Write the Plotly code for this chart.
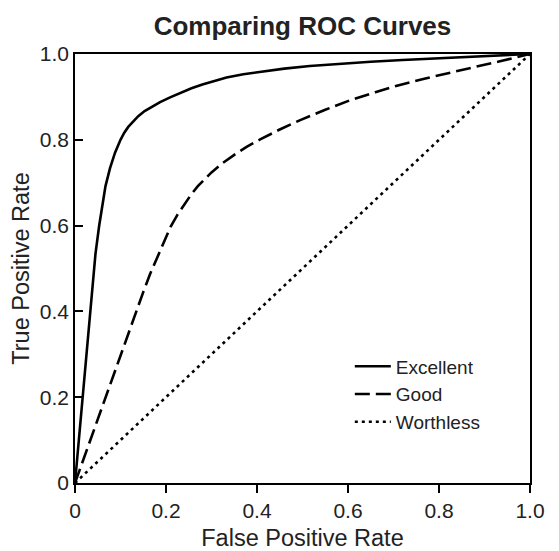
import plotly.graph_objects as go

# ROC curve points
excellent_fpr = [0, 0.018, 0.037, 0.045, 0.053, 0.060, 0.067, 0.077, 0.088, 0.100, 0.108, 0.117, 0.128, 0.139,
                 0.153, 0.168, 0.187, 0.209, 0.232, 0.256, 0.28, 0.304, 0.333, 0.37, 0.407, 0.46, 0.516, 0.58,
                 0.65, 0.72, 0.8, 0.9, 1.0]
excellent_tpr = [0, 0.215, 0.445, 0.534, 0.599, 0.651, 0.692, 0.734, 0.770, 0.800, 0.816, 0.830, 0.843, 0.855,
                 0.867, 0.877, 0.888, 0.899, 0.910, 0.920, 0.929, 0.937, 0.945, 0.953, 0.959, 0.966, 0.972, 0.977,
                 0.982, 0.986, 0.990, 0.995, 1.0]

good_fpr = [0, 0.05, 0.10, 0.15, 0.165, 0.18, 0.195, 0.21, 0.225, 0.24, 0.255, 0.27, 0.285, 0.30, 0.325, 0.35,
            0.378, 0.407, 0.45, 0.495, 0.55, 0.604, 0.66, 0.714, 0.77, 0.824, 0.88, 0.934, 1.0]
good_tpr = [0, 0.15, 0.30, 0.445, 0.487, 0.525, 0.562, 0.597, 0.625, 0.650, 0.672, 0.692, 0.709, 0.724, 0.746, 0.765,
            0.784, 0.801, 0.824, 0.846, 0.870, 0.892, 0.911, 0.928, 0.943, 0.957, 0.970, 0.983, 1.0]

worthless_fpr = [0, 1]
worthless_tpr = [0, 1]

tick_vals = [0, 0.2, 0.4, 0.6, 0.8, 1.0]
tick_text = ["0", "0.2", "0.4", "0.6", "0.8", "1.0"]

FONT = "Liberation Sans, Arial, Helvetica, sans-serif"

fig = go.Figure()

fig.add_trace(go.Scatter(
    x=excellent_fpr, y=excellent_tpr, mode='lines', name='Excellent',
    line=dict(color='black', width=2.6)
))
fig.add_trace(go.Scatter(
    x=good_fpr, y=good_tpr, mode='lines', name='Good',
    line=dict(color='black', width=2.6, dash='15px,6px')
))
fig.add_trace(go.Scatter(
    x=worthless_fpr, y=worthless_tpr, mode='lines', name='Worthless',
    line=dict(color='black', width=2.6, dash='3px,4px')
))

axis_common = dict(
    range=[0, 1], tickvals=tick_vals, ticktext=tick_text,
    showline=True, linecolor='black', linewidth=1.5, mirror=True,
    showgrid=False, zeroline=False, ticklen=8, tickwidth=1.5, tickcolor='black',
    tickfont=dict(size=21, color='#222', family=FONT), automargin=False,
)

fig.update_xaxes(title=dict(text='False Positive Rate', font=dict(size=23.5, color='#222', family=FONT), standoff=18),
                 ticks='outside', **axis_common)
fig.update_yaxes(title=dict(text='True Positive Rate', font=dict(size=23.5, color='#222', family=FONT), standoff=8),
                 ticks='inside', **axis_common)

# the page body adds an 8px offset, so the figure is 8px smaller than the window
fig.update_layout(
    width=551, height=543,
    margin=dict(l=67, r=29, t=46, b=68),
    paper_bgcolor='white', plot_bgcolor='white',
    title=dict(text='<b>Comparing ROC Curves</b>', x=0.5, xref='paper', xanchor='center',
               y=0.967, yanchor='middle', font=dict(size=26, color='#222', family=FONT)),
    legend=dict(x=0.604, y=0.316, xanchor='left', yanchor='top', bgcolor='rgba(0,0,0,0)',
                font=dict(size=19, color='#222', family=FONT), itemwidth=36),
    showlegend=True,
)

fig.write_html("out.html")
